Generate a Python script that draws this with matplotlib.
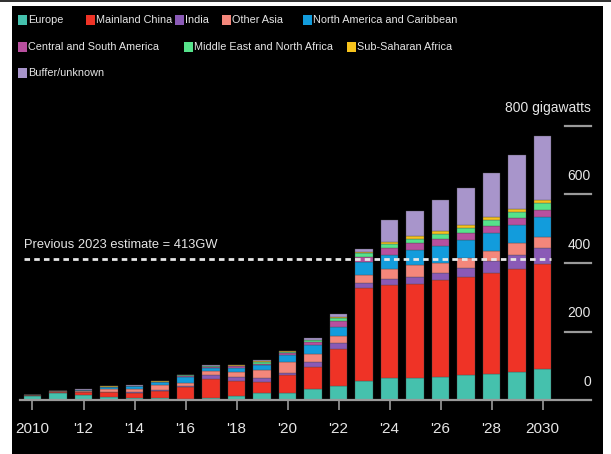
import numpy as np
import matplotlib
matplotlib.use('Agg')
import matplotlib.pyplot as plt
from matplotlib.patches import Rectangle

plt.rcParams['font.family'] = ['Liberation Sans', 'DejaVu Sans']

years = list(range(2010, 2031))

# gigawatts per region
europe = [13, 20, 15, 8, 7, 7, 4, 7, 12, 21, 21, 31, 41, 56, 63, 65, 68, 73, 76, 83, 89.5]
china = [1, 3, 7, 15.5, 13, 19.5, 33, 53.5, 44, 32, 51.5, 66, 107, 270, 274, 275, 282, 287, 296, 300, 306.5]
india = [0, 1, 1, 1, 2, 3, 4, 12.5, 10.5, 11.5, 5, 13.5, 19.5, 15, 17.5, 19.5, 22, 26, 34, 41, 46.7]
other_asia = [0.5, 2, 3, 7, 11, 14.5, 10, 11.5, 16.5, 24, 34, 22.5, 20.5, 24, 29, 34, 29, 29, 29, 34, 34]
north_america = [1, 1, 4, 6, 7, 8, 16, 10, 10, 12.5, 19.5, 27, 26, 37, 41, 44, 49, 51.5, 53.5, 53.5, 56.4]
central_south = [0, 0, 0.5, 1, 1, 1, 3, 3, 5, 5, 6, 8, 16.5, 16.5, 19, 22, 19.5, 21, 19.5, 19.5, 21.4]
mena = [0, 0, 0, 0.5, 0.5, 1, 2, 2, 2, 6, 4, 6, 9.5, 10, 11, 12, 14.6, 15.5, 16.5, 17.5, 19.5]
sub_saharan = [0, 0, 0, 0.5, 0.5, 0.5, 1, 1, 1, 2, 1.5, 2, 3, 5, 7, 8, 9, 9, 9, 10, 9.7]
buffer = [0.5, 0, 0.5, 1, 1, 0, 1, 1, 1, 3, 1.5, 4, 8, 8, 65, 72, 90, 107, 130, 156, 188]

series = [
    ('Europe', europe, '#45c1ad'),
    ('Mainland China', china, '#ef3326'),
    ('India', india, '#8a5ab6'),
    ('Other Asia', other_asia, '#f4877b'),
    ('North America and Caribbean', north_america, '#129cdc'),
    ('Central and South America', central_south, '#b8509f'),
    ('Middle East and North Africa', mena, '#56e38b'),
    ('Sub-Saharan Africa', sub_saharan, '#f7c31c'),
    ('Buffer/unknown', buffer, '#a895cb'),
]

prev_estimate = 413
ytick_vals = [0, 200, 400, 600, 800]
xtick_years = list(range(2010, 2031, 2))
xtick_labels = ['2010', "'12", "'14", "'16", "'18", "'20", "'22", "'24", "'26", "'28", '2030']

W, H = 611, 454
fig = plt.figure(figsize=(W / 100, H / 100), dpi=100, facecolor='white')

def fx(px):
    return px / W

def fy(py):
    return 1 - py / H

# black panel + thin grey strip on top
fig.patches.append(Rectangle((fx(12), 0), fx(603) - fx(12), fy(6), transform=fig.transFigure,
                             facecolor='black', edgecolor='none', zorder=-10))
fig.patches.append(Rectangle((0, fy(2)), 1, fy(0) - fy(2), transform=fig.transFigure,
                             facecolor='#333333', edgecolor='none', zorder=-10))

ax = fig.add_axes([fx(20), fy(400), fx(591) - fx(20), fy(126) - fy(400)])
ax.set_zorder(1)
ax.set_facecolor('none')
ax.set_xlim(2009.51, 2031.9)
ax.set_ylim(0, 800)

bottom = np.zeros(len(years))
for name, vals, color in series:
    ax.bar(years, vals, width=0.7, bottom=bottom, color=color,
           edgecolor='#4a4a4a', linewidth=0.25, zorder=2)
    bottom += np.array(vals)

# previous estimate line
ax.plot([2009.67, 2030.35], [prev_estimate, prev_estimate], color='#e6e6e6',
        linestyle=(0, (2, 1.5)), linewidth=2, zorder=4, clip_on=False)
ax.text(2009.67, prev_estimate + 40, 'Previous 2023 estimate = %dGW' % prev_estimate,
        color='#e6e6e6', fontsize=9.3, va='center', ha='left')

# right-hand value labels with short grid segments
for v in ytick_vals:
    if v > 0:
        ax.plot([2030.88, 2031.9], [v, v], color='#9a9a9a', linewidth=1.6, clip_on=False, zorder=1)
    lab = '800 gigawatts' if v == 800 else str(v)
    ax.text(2031.9, v + 53, lab, color='#e6e6e6', fontsize=10, ha='right', va='center')

for s in ['top', 'left', 'right']:
    ax.spines[s].set_visible(False)
ax.spines['bottom'].set_color('#9a9a9a')
ax.spines['bottom'].set_linewidth(1.6)
ax.set_yticks([])
ax.set_xticks(xtick_years)
ax.set_xticklabels(xtick_labels)
ax.tick_params(axis='x', colors='#9a9a9a', length=7, width=1.2, pad=9, labelsize=11,
               labelcolor='#e6e6e6')

# legend drawn by hand
legend_pos = [(18, 20), (86, 20), (175, 20), (222, 20), (303, 20),
              (18, 47), (184, 47), (347, 47),
              (18, 73)]
for (name, vals, color), (px, py) in zip(series, legend_pos):
    fig.patches.append(Rectangle((fx(px), fy(py + 5)), fx(9), 10 / H, transform=fig.transFigure,
                                 facecolor=color, edgecolor='none', zorder=3))
    fig.text(fx(px + 10), fy(py), name, color='#e6e6e6', fontsize=7.8, va='center', ha='left')

fig.savefig('out.png', dpi=100, facecolor=fig.get_facecolor())
